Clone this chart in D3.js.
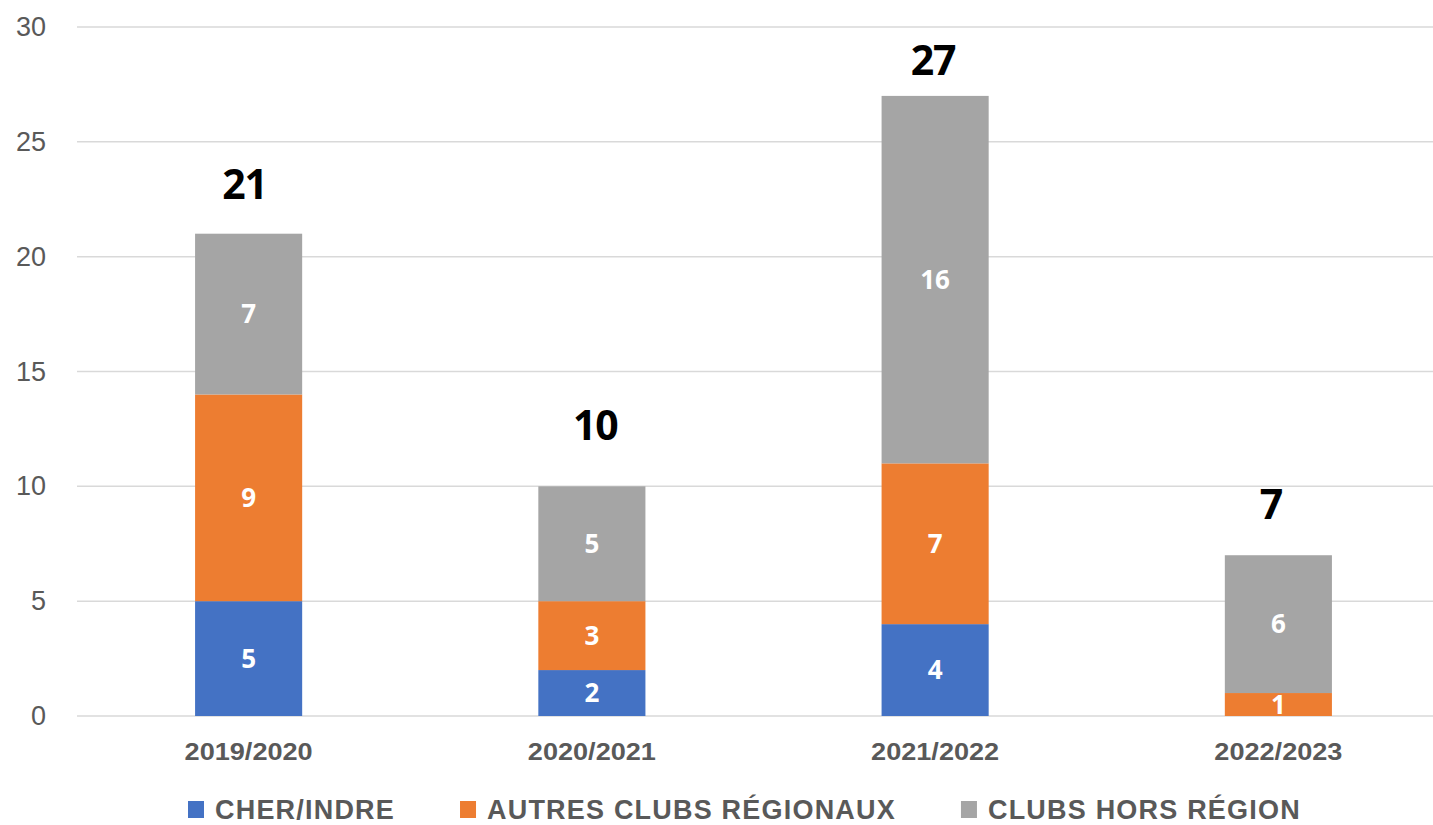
<!DOCTYPE html>
<meta charset="utf-8">
<style>
  body { margin: 0; background: #fff; }
  svg text { font-family: "Liberation Sans", Arial, sans-serif; }
</style>
<body>
<script src="https://d3js.org/d3.v7.min.js"></script>
<svg id="chart" width="1433" height="825"></svg>
<script>
// data
var seasons = ['2019/2020', '2020/2021', '2021/2022', '2022/2023'];
var series = ['CHER/INDRE', 'AUTRES CLUBS RÉGIONAUX', 'CLUBS HORS RÉGION'];
var cherIndre = [5, 2, 4, 0];
var autresClubs = [9, 3, 7, 1];
var horsRegion = [7, 5, 16, 6];
var yTicks = [0, 5, 10, 15, 20, 25, 30];
var colors = ['#4472C4', '#ED7D31', '#A5A5A5'];

// total labels were nudged by hand in the original, keep those nudges (px)
var totalNudgeX = [-4, 3.5, -2, -7.5];
var totalGap = [35, 46, 21, 36];

var svg = d3.select('#chart');

var x = d3.scaleBand()
  .domain(seasons)
  .range([77, 1450])
  .paddingInner(0.688)
  .paddingOuter(0.344);

var y = d3.scaleLinear()
  .domain([0, 30])
  .range([716, 27]);

// gridlines
svg.append('g')
  .selectAll('line')
  .data(yTicks)
  .join('line')
  .attr('x1', 77).attr('x2', 1433)
  .attr('y1', function(d) { return y(d); })
  .attr('y2', function(d) { return y(d); })
  .attr('stroke', '#D9D9D9')
  .attr('stroke-width', 1.5);

// y axis labels
var yAxis = svg.append('g')
  .attr('transform', 'translate(46,0)')
  .call(d3.axisLeft(y).tickValues(yTicks).tickSize(0).tickPadding(0));
yAxis.select('.domain').remove();
yAxis.selectAll('text')
  .attr('fill', '#595959')
  .attr('font-size', 27)
  .attr('font-family', '"Liberation Sans", Arial, sans-serif');

// stack
var rows = seasons.map(function(s, i) {
  var r = { season: s };
  r[series[0]] = cherIndre[i];
  r[series[1]] = autresClubs[i];
  r[series[2]] = horsRegion[i];
  return r;
});
var stacked = d3.stack().keys(series)(rows);

svg.append('defs').append('clipPath').attr('id', 'plotclip')
  .append('rect').attr('x', 0).attr('y', 0).attr('width', 1433).attr('height', y(0));

var layers = svg.append('g')
  .selectAll('g')
  .data(stacked)
  .join('g')
  .attr('fill', function(d, i) { return colors[i]; });

layers.selectAll('rect')
  .data(function(d) { return d; })
  .join('rect')
  .attr('x', function(d) { return x(d.data.season); })
  .attr('width', x.bandwidth())
  .attr('y', function(d) { return y(d[1]); })
  .attr('height', function(d) { return y(d[0]) - y(d[1]); });

// values inside segments
var inner = svg.append('g').attr('clip-path', 'url(#plotclip)');
stacked.forEach(function(layer) {
  inner.selectAll(null)
    .data(layer.filter(function(d) { return d[1] - d[0] > 0; }))
    .join('text')
    .attr('x', function(d) { return x(d.data.season) + x.bandwidth() / 2; })
    .attr('y', function(d) { return (y(d[0]) + y(d[1])) / 2; })
    .attr('dy', '0.36em')
    .attr('text-anchor', 'middle')
    .attr('fill', '#fff')
    .attr('font-weight', 'bold')
    .attr('font-size', 26)
    .style('font-family', '"Open Sans", sans-serif')
    .text(function(d) { return d[1] - d[0]; });
});

// totals above bars
var totals = seasons.map(function(s, i) { return cherIndre[i] + autresClubs[i] + horsRegion[i]; });
svg.append('g')
  .selectAll('text')
  .data(seasons)
  .join('text')
  .attr('x', function(d, i) { return x(d) + x.bandwidth() / 2 + totalNudgeX[i]; })
  .attr('y', function(d, i) { return y(totals[i]) - totalGap[i]; })
  .attr('text-anchor', 'middle')
  .attr('fill', '#000')
  .attr('font-weight', 'bold')
  .attr('font-size', 41)
  .attr('letter-spacing', -1)
  .style('font-family', '"Open Sans", sans-serif')
  .text(function(d, i) { return totals[i]; });

// x axis labels (original font is wide, stretch a bit)
var xAxis = svg.append('g')
  .attr('transform', 'translate(0,' + y(0) + ')')
  .call(d3.axisBottom(x).tickSize(0).tickPadding(0));
xAxis.select('.domain').remove();
xAxis.selectAll('text')
  .attr('dy', null)
  .attr('y', 44)
  .attr('transform', 'scale(1.13,1)')
  .attr('fill', '#595959')
  .attr('font-size', 24)
  .attr('font-weight', 'bold')
  .attr('font-family', '"Liberation Sans", Arial, sans-serif');

// legend
var legend = svg.append('g');
var lx = 188;
series.forEach(function(name, i) {
  legend.append('rect')
    .attr('x', lx).attr('y', 801)
    .attr('width', 16).attr('height', 17)
    .attr('fill', colors[i]);
  var t = legend.append('text')
    .attr('x', lx + 27).attr('y', 819)
    .attr('fill', '#595959')
    .attr('font-size', 27)
    .attr('font-weight', 'bold')
    .attr('letter-spacing', 1.2)
    .text(name);
  lx += 27 + t.node().getComputedTextLength() + 65;
});
</script>
</body>
